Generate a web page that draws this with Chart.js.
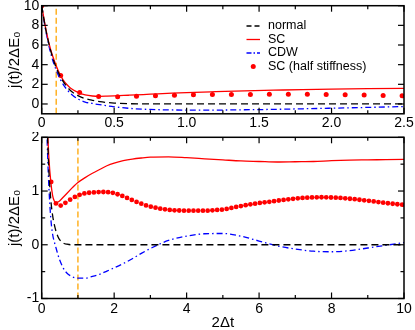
<!DOCTYPE html>
<html><head><meta charset="utf-8">
<script src="https://cdn.jsdelivr.net/npm/chart.js@4"></script>
<style>
html,body{margin:0;padding:0;background:#fff;overflow:hidden;width:415px;height:330px}
#wrapTop{position:absolute;left:0;top:0;width:415px;height:132px}
#wrapBot{position:absolute;left:0;top:132px;width:415px;height:200px}
</style></head><body>
<div id="wrapTop"><canvas id="cTop"></canvas></div>
<div id="wrapBot"><canvas id="cBot"></canvas></div>
<script>
// ---- data (x in units of 2Δt) ----
const tLine = [0,0.025,0.05,0.075,0.1,0.125,0.15,0.175,0.2,0.25,0.3,0.35,0.4,0.45,0.5,0.6,0.7,0.8,0.9,1.0,1.2,1.4,1.6,1.8,2.0,2.25,2.5,2.75,3.0,3.5,4.0,4.5,5.0,5.5,6.0,6.5,7.0,7.5,8.0,8.5,9.0,9.5,10.0];
const normal = [10,7.8,6.1,4.75,3.7,2.9,2.25,1.75,1.35,0.85,0.55,0.37,0.24,0.15,0.09,0.03,0.01,0,0,0,0,0,0,0,0,0,0,0,0,0,0,0,0,0,0,0,0,0,0,0,0,0,0];
const sc = [10,7.9,6.2,4.9,3.9,3.05,2.4,1.95,1.6,1.18,0.92,0.81,0.78,0.795,0.82,0.89,0.96,1.03,1.1,1.16,1.25,1.33,1.4,1.47,1.52,1.565,1.595,1.615,1.63,1.635,1.62,1.6,1.58,1.56,1.55,1.54,1.545,1.55,1.565,1.575,1.58,1.585,1.59];
const cdw = [10,7.7,5.9,4.5,3.45,2.6,1.95,1.45,1.05,0.5,0.2,0.05,-0.07,-0.19,-0.29,-0.44,-0.53,-0.58,-0.61,-0.62,-0.62,-0.59,-0.55,-0.49,-0.43,-0.35,-0.26,-0.16,-0.07,0.08,0.16,0.205,0.21,0.16,0.07,-0.02,-0.08,-0.12,-0.13,-0.11,-0.06,-0.01,0.04];
const tHalf = [0,0.131,0.262,0.393,0.524,0.654,0.785,0.916,1.047,1.178,1.309,1.440,1.571,1.702,1.833,1.963,2.094,2.225,2.356,2.487,2.618,2.749,2.880,3.011,3.142,3.272,3.403,3.534,3.665,3.796,3.927,4.058,4.189,4.320,4.451,4.581,4.712,4.843,4.974,5.105,5.236,5.367,5.498,5.629,5.760,5.890,6.021,6.152,6.283,6.414,6.545,6.676,6.807,6.938,7.069,7.199,7.330,7.461,7.592,7.723,7.854,7.985,8.116,8.247,8.378,8.508,8.639,8.770,8.901,9.032,9.163,9.294,9.425,9.556,9.687,9.817,9.948];
const scHalf = [10,2.9,1.17,0.77,0.73,0.78,0.84,0.89,0.93,0.955,0.968,0.975,0.98,0.982,0.978,0.966,0.94,0.909,0.872,0.834,0.797,0.765,0.733,0.709,0.69,0.672,0.659,0.648,0.641,0.638,0.635,0.635,0.635,0.635,0.635,0.635,0.641,0.648,0.654,0.667,0.685,0.704,0.72,0.737,0.752,0.765,0.778,0.79,0.8,0.812,0.824,0.835,0.845,0.855,0.864,0.871,0.877,0.881,0.883,0.884,0.883,0.88,0.876,0.871,0.864,0.856,0.848,0.838,0.828,0.817,0.806,0.795,0.784,0.773,0.763,0.754,0.746];
const seriesLabels = ['normal','SC','CDW','SC (half stiffness)'];
const topXTicks = [0,0.5,1,1.5,2,2.5];
const topXMinor = [0.25,0.75,1.25,1.75,2.25];
const topYTicks = [0,2,4,6,8,10];
const botXTicks = [0,2,4,6,8,10];
const botXMinor = [1,3,5,7,9];
const botYTicks = [-1,0,1,2];
const botYMinor = [-0.5,0.5,1.5];
const topMarker = 0.1;
const botMarker = 1;
const xTitle = '2Δt';
const yTitle = 'j(t)/2ΔE₀';

const FONT = '"Liberation Sans", Arial, Helvetica, sans-serif';
Chart.defaults.color = '#000';
Chart.defaults.font.family = FONT;

const pts = (xs, ys) => xs.map((x, i) => ({x: x, y: ys[i]}));

function makeDatasets(markerX, yMin, yMax, dotR) {
  return [
    {label: seriesLabels[0], data: pts(tLine, normal), borderColor: '#000', borderWidth: 1.3, borderDash: [7,4], pointRadius: 0, cubicInterpolationMode: 'monotone', inLegend: true, legendDash: [5,3]},
    {label: seriesLabels[1], data: pts(tLine, sc), borderColor: '#ff0000', borderWidth: 1.3, pointRadius: 0, cubicInterpolationMode: 'monotone', inLegend: true},
    {label: seriesLabels[2], data: pts(tLine, cdw), borderColor: '#0000ff', borderWidth: 1.3, borderDash: [6,3,1.5,3], pointRadius: 0, cubicInterpolationMode: 'monotone', inLegend: true, legendDash: [5,2,1.5,2]},
    {label: seriesLabels[3], data: pts(tHalf, scHalf), showLine: false, pointRadius: dotR, pointBorderWidth: 0, backgroundColor: '#ff0000', borderColor: '#ff0000', inLegend: true},
    {label: 'marker', data: [{x: markerX, y: yMin}, {x: markerX, y: yMax}], borderColor: '#ffa500', borderWidth: 1.3, borderDash: [6,3], pointRadius: 0}
  ];
}

const framePlugin = {
  id: 'frameTicks',
  afterDatasetsDraw(chart, args, o) {
    const {ctx, chartArea: a} = chart;
    const x = chart.scales.x, y = chart.scales.y;
    ctx.save();
    ctx.strokeStyle = '#000';
    ctx.lineWidth = 1.2;
    const seg = (x1, y1, x2, y2) => { ctx.beginPath(); ctx.moveTo(x1, y1); ctx.lineTo(x2, y2); ctx.stroke(); };
    const xt = (vals, L) => vals.forEach(v => { const p = x.getPixelForValue(v); seg(p, a.bottom, p, a.bottom - L); seg(p, a.top, p, a.top + L); });
    const yt = (vals, L) => vals.forEach(v => { const p = y.getPixelForValue(v); seg(a.left, p, a.left + L, p); seg(a.right, p, a.right - L, p); });
    xt(o.xMajor, 6); xt(o.xMinor, 3.5);
    yt(o.yMajor, 6); yt(o.yMinor, 3.5);
    ctx.lineWidth = 1.5;
    ctx.strokeRect(a.left, a.top, a.right - a.left, a.bottom - a.top);
    ctx.restore();
  }
};

const legendPlugin = {
  id: 'insideLegend',
  afterDraw(chart, args, o) {
    if (!o.show) return;
    const ctx = chart.ctx;
    ctx.save();
    ctx.font = '12.5px ' + FONT;
    ctx.textBaseline = 'middle';
    ctx.textAlign = 'left';
    chart.data.datasets.filter(d => d.inLegend).forEach((d, i) => {
      const yy = o.y + i * o.dy;
      if (d.showLine === false) {
        ctx.beginPath(); ctx.fillStyle = d.backgroundColor;
        ctx.arc(o.x + o.w / 2, yy, d.pointRadius, 0, Math.PI * 2); ctx.fill();
      } else {
        ctx.beginPath(); ctx.strokeStyle = d.borderColor; ctx.lineWidth = d.borderWidth;
        ctx.setLineDash(d.legendDash || []);
        ctx.moveTo(o.x, yy); ctx.lineTo(o.x + o.w, yy); ctx.stroke();
        ctx.setLineDash([]);
      }
      ctx.fillStyle = '#000';
      ctx.fillText(d.label, o.textX, yy);
    });
    ctx.restore();
  }
};

function makeChart(id, cfg) {
  return new Chart(document.getElementById(id), {
    type: 'line',
    data: {datasets: makeDatasets(cfg.marker, cfg.yMin, cfg.yMax, cfg.dotR)},
    options: {
      responsive: true, maintainAspectRatio: false, animation: false,
      layout: {autoPadding: false, padding: {top: cfg.padTop, right: 11, left: 0, bottom: 0}},
      plugins: {
        legend: {display: false}, tooltip: {enabled: false},
        frameTicks: {xMajor: cfg.xTicks, xMinor: cfg.xMinor, yMajor: cfg.yTicks, yMinor: cfg.yMinor},
        insideLegend: cfg.legend
      },
      scales: {
        x: {
          type: 'linear', min: cfg.xMin, max: cfg.xMax,
          grid: {display: false, drawTicks: false}, border: {display: false},
          ticks: {font: {size: 14}, padding: cfg.xPad, maxRotation: 0, autoSkip: false},
          title: {display: cfg.showXTitle, text: xTitle, font: {size: 15}, padding: {top: 0, bottom: 0}},
          afterBuildTicks: s => { s.ticks = cfg.xTicks.map(v => ({value: v})); },
          afterFit: s => { s.height = cfg.xH; s.paddingLeft = 0; s.paddingRight = 0; }
        },
        y: {
          type: 'linear', min: cfg.yMin, max: cfg.yMax,
          grid: {display: false, drawTicks: false}, border: {display: false},
          ticks: {font: {size: 14}, padding: 2.5, autoSkip: false},
          title: {display: true, text: yTitle, font: {size: 15}, padding: {top: 6, bottom: 0}},
          afterBuildTicks: s => { s.ticks = cfg.yTicks.map(v => ({value: v})); },
          afterFit: s => { s.width = 41.7; s.paddingTop = 0; s.paddingBottom = 0; }
        }
      }
    },
    plugins: [framePlugin, legendPlugin]
  });
}

makeChart('cTop', {
  marker: topMarker, xMin: 0, xMax: 2.5, yMin: -1, yMax: 10, dotR: 2.5,
  xTicks: topXTicks, xMinor: topXMinor, yTicks: topYTicks, yMinor: [],
  padTop: 5.7, xH: 132 - 113.8, xPad: 1, showXTitle: false,
  legend: {show: true, x: 246.5, w: 13.5, textX: 268, y: 26, dy: 13.5}
});
makeChart('cBot', {
  marker: botMarker, xMin: 0, xMax: 10, yMin: -1, yMax: 2, dotR: 2.4,
  xTicks: botXTicks, xMinor: botXMinor, yTicks: botYTicks, yMinor: botYMinor,
  padTop: 5.3, xH: 200 - 166.5, xPad: 2, showXTitle: true,
  legend: {show: false}
});
</script>
</body></html>
